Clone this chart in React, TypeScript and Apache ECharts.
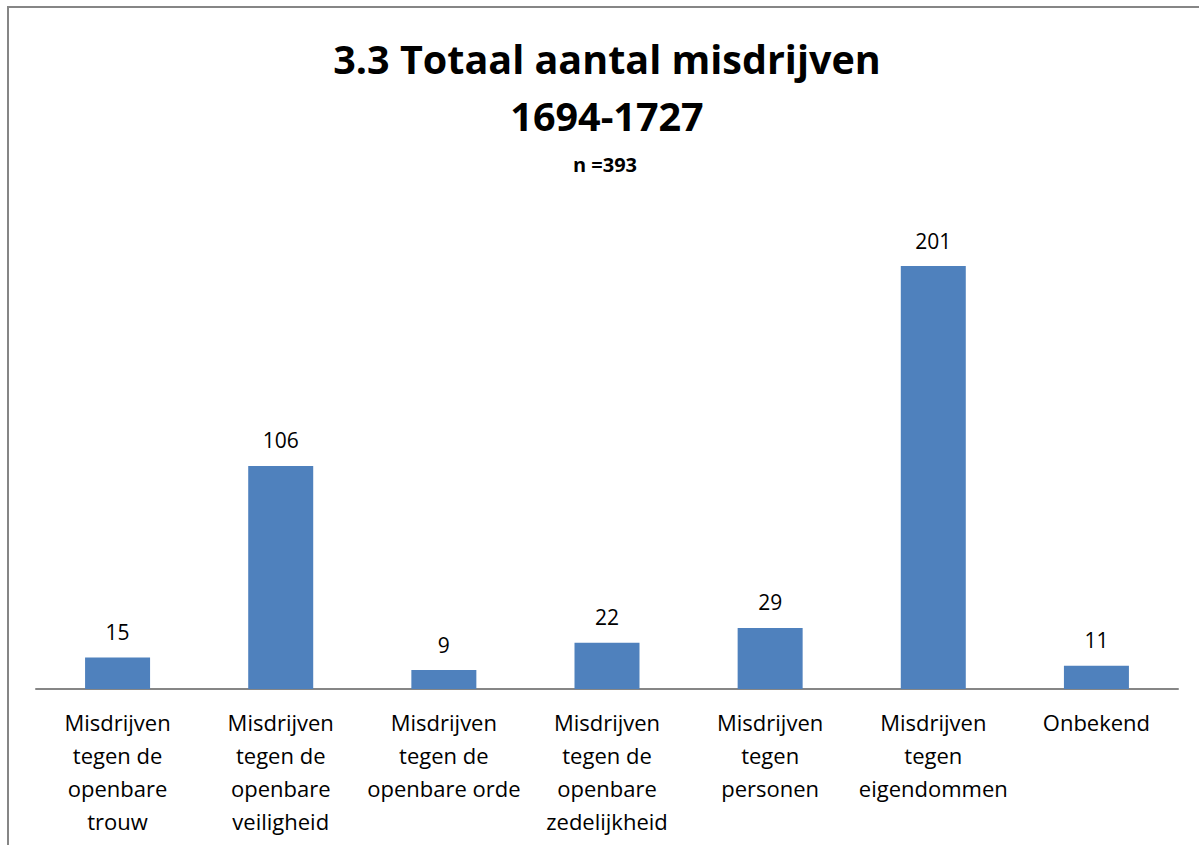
import React, { useEffect, useRef } from "react";
import * as echarts from "echarts";

const categories = [
  "Misdrijven\ntegen de\nopenbare\ntrouw",
  "Misdrijven\ntegen de\nopenbare\nveiligheid",
  "Misdrijven\ntegen de\nopenbare orde",
  "Misdrijven\ntegen de\nopenbare\nzedelijkheid",
  "Misdrijven\ntegen\npersonen",
  "Misdrijven\ntegen\neigendommen",
  "Onbekend",
];
const values = [15, 106, 9, 22, 29, 201, 11];
const titleLines = ["3.3 Totaal aantal misdrijven", "1694-1727"];
const subtitle = "n =393";

const FONT = "'Open Sans', Lato, sans-serif";

export default function App() {
  const ref = useRef<HTMLDivElement>(null);
  useEffect(() => {
    const chart = echarts.init(ref.current!, null, { renderer: "svg" });
    chart.setOption({
      animation: false,
      backgroundColor: "#ffffff",
      grid: { left: 36, right: 21, top: 163, bottom: 156, containLabel: false },
      xAxis: {
        type: "category",
        data: categories,
        axisLine: { lineStyle: { color: "#868686", width: 2 } },
        axisTick: { show: false },
        axisLabel: {
          interval: 0,
          color: "#000",
          fontFamily: FONT,
          fontSize: 22,
          lineHeight: 33,
          margin: 16,
        },
      },
      yAxis: {
        type: "value",
        min: 0,
        max: 250,
        interval: 50,
        show: false,
        splitLine: { show: false },
      },
      series: [
        {
          type: "bar",
          data: values,
          barWidth: 65,
          itemStyle: { color: "#4f81bd" },
          label: {
            show: true,
            position: "top",
            distance: 15,
            color: "#000",
            fontFamily: FONT,
            fontSize: 21,
          },
        },
      ],
      graphic: [
        {
          type: "rect",
          shape: { x: 8, y: 7, width: 1300, height: 1000 },
          style: { fill: "none", stroke: "#868686", lineWidth: 2 },
          silent: true,
        },
        {
          type: "text",
          x: 607,
          y: 59,
          style: {
            text: titleLines[0],
            fontFamily: FONT,
            fontWeight: "bold",
            fontSize: 39.5,
            fill: "#000",
            textAlign: "center",
            textVerticalAlign: "middle",
          },
        },
        {
          type: "text",
          x: 607,
          y: 116,
          style: {
            text: titleLines[1],
            fontFamily: FONT,
            fontWeight: "bold",
            fontSize: 39.5,
            fill: "#000",
            textAlign: "center",
            textVerticalAlign: "middle",
          },
        },
        {
          type: "text",
          x: 605,
          y: 164,
          style: {
            text: subtitle,
            fontFamily: FONT,
            fontWeight: "bold",
            fontSize: 20,
            fill: "#000",
            textAlign: "center",
            textVerticalAlign: "middle",
          },
        },
      ],
    });
    return () => chart.dispose();
  }, []);
  return (
    <div
      ref={ref}
      style={{ position: "fixed", left: 0, top: 0, width: 1199, height: 845 }}
    />
  );
}
